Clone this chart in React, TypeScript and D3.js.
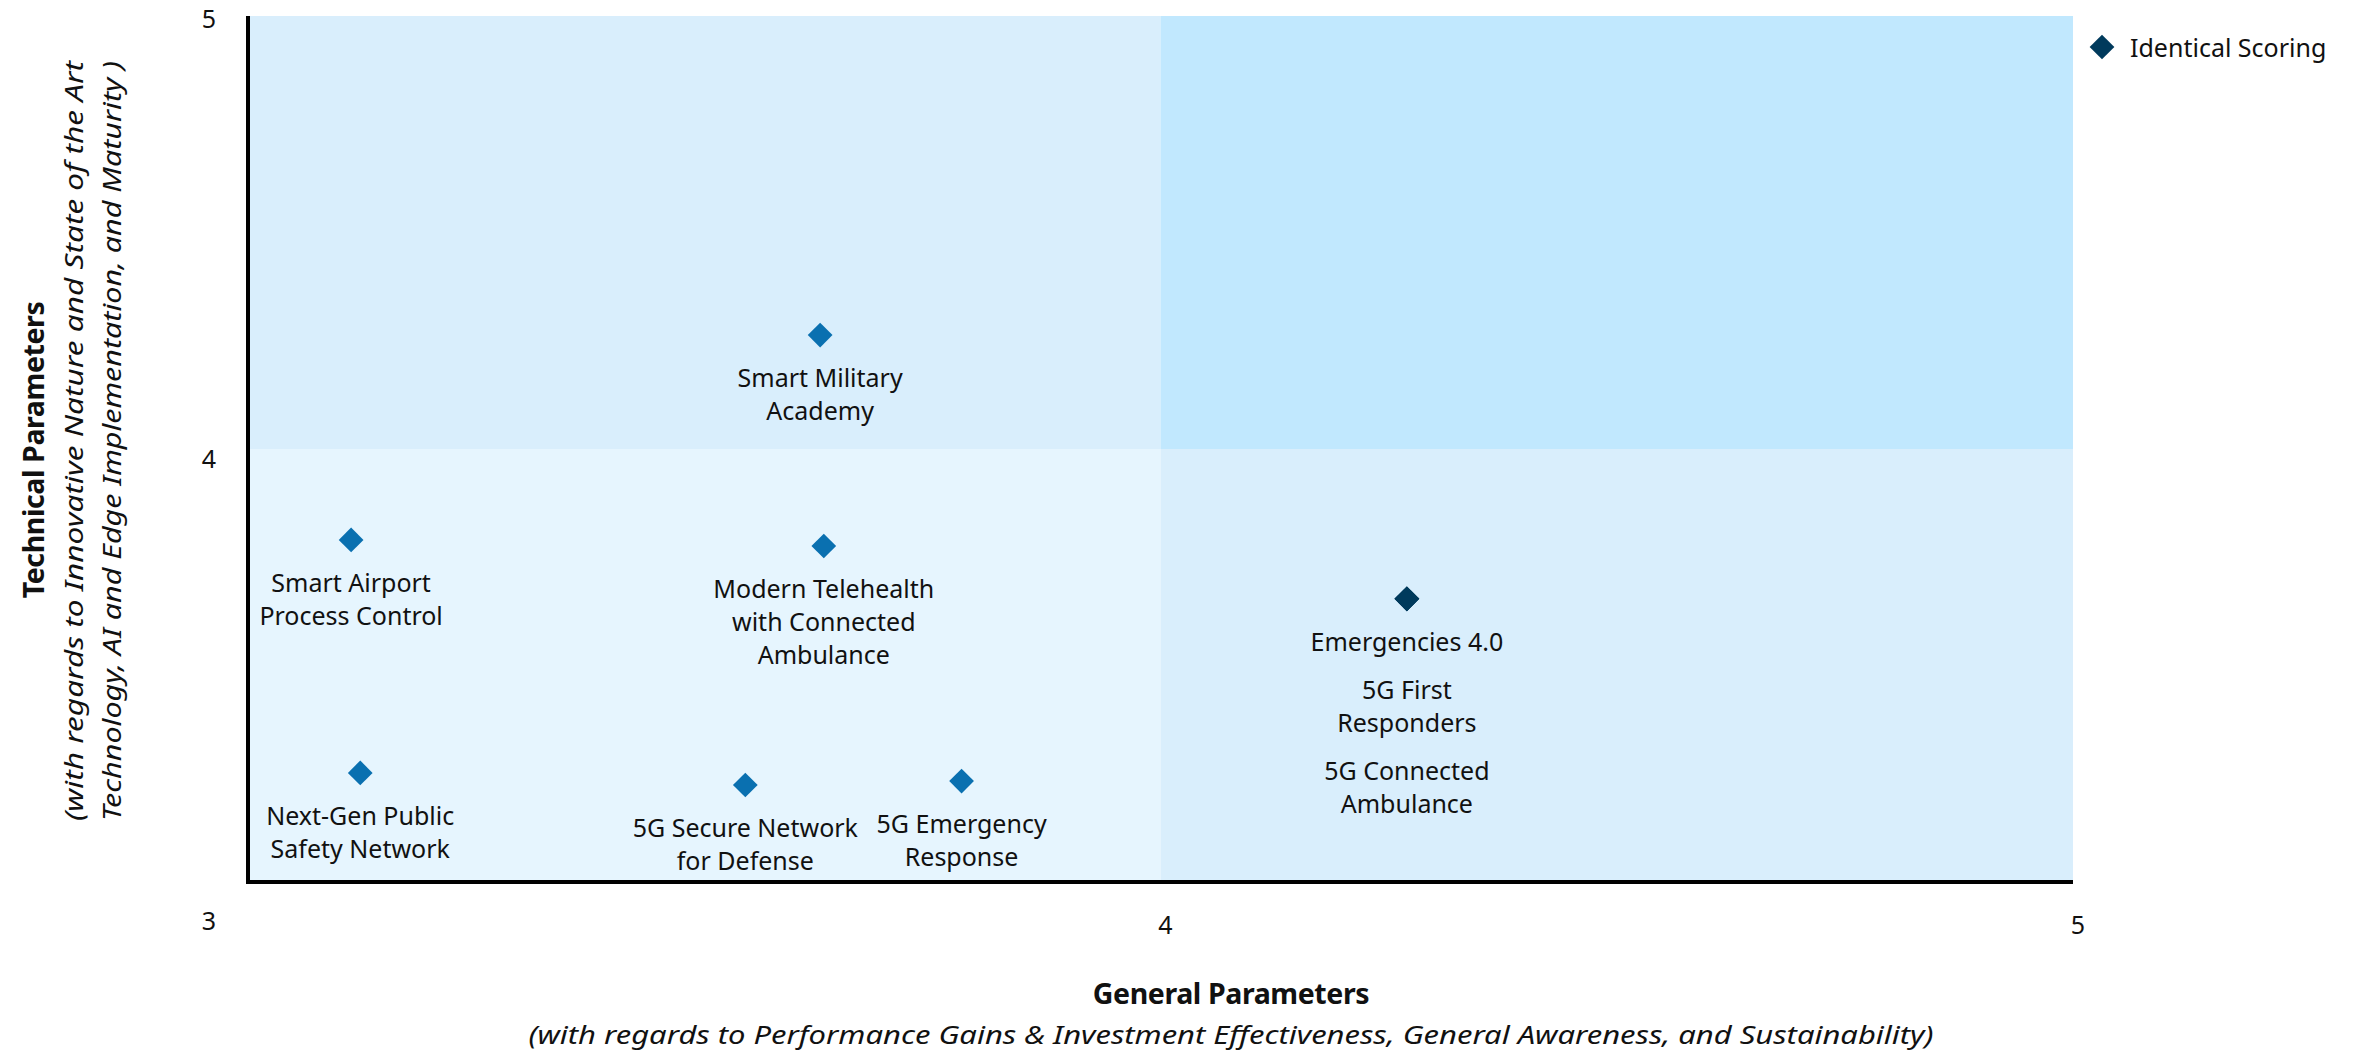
import * as d3 from "d3";
import { useEffect, useRef } from "react";

// Chart values
const projectNames = [
  "Smart Military Academy",
  "Smart Airport Process Control",
  "Modern Telehealth with Connected Ambulance",
  "Emergencies 4.0",
  "5G First Responders",
  "5G Connected Ambulance",
  "Next-Gen Public Safety Network",
  "5G Secure Network for Defense",
  "5G Emergency Response",
];
const labelLines = [
  ["Smart Military", "Academy"],
  ["Smart Airport", "Process Control"],
  ["Modern Telehealth", "with Connected", "Ambulance"],
  ["Emergencies 4.0"],
  ["5G First", "Responders"],
  ["5G Connected", "Ambulance"],
  ["Next-Gen Public", "Safety Network"],
  ["5G Secure Network", "for Defense"],
  ["5G Emergency", "Response"],
];
const generalScores = [3.627, 3.113, 3.631, 4.27, 4.27, 4.27, 3.123, 3.545, 3.782];
const technicalScores = [4.263, 3.79, 3.776, 3.654, 3.654, 3.654, 3.252, 3.224, 3.233];
const identicalScoring = [false, false, false, true, true, true, false, false, false];

const xTicks = [4, 5];
const yTicks = [5, 4];
const cornerTick = "3";

const xTitle = "General Parameters";
const xSubtitle =
  "(with regards to Performance Gains & Investment Effectiveness, General Awareness, and Sustainability)";
const yTitle = "Technical Parameters";
const ySubtitle = [
  "(with regards to Innovative Nature and State of the Art",
  "Technology, AI and Edge Implementation, and  Maturity )",
];
const legendLabel = "Identical Scoring";

const quadrantColors = {
  lowLow: "#e6f5fe",
  lowHigh: "#d9eefc",
  highLow: "#d9eefc",
  highHigh: "#c1e8fe",
};
const markerColor = "#0a70b0";
const identicalColor = "#003a5c";

const width = 2354,
  height = 1052;
const font = "'Noto Sans', 'Open Sans', sans-serif";

export default function App() {
  const svgRef = useRef(null);

  useEffect(() => {
    document.body.style.margin = "0";
    const svg = d3.select(svgRef.current);
    svg.selectAll("*").remove();

    const x = d3.scaleLinear().domain([3, 5]).range([248, 2073]);
    const y = d3.scaleLinear().domain([3, 5]).range([882, 16]);

    // quadrants
    const quads = [
      { x0: 3, x1: 4, y0: 3, y1: 4, c: quadrantColors.lowLow },
      { x0: 3, x1: 4, y0: 4, y1: 5, c: quadrantColors.lowHigh },
      { x0: 4, x1: 5, y0: 3, y1: 4, c: quadrantColors.highLow },
      { x0: 4, x1: 5, y0: 4, y1: 5, c: quadrantColors.highHigh },
    ];
    svg.append("g")
      .selectAll("rect")
      .data(quads)
      .enter().append("rect")
      .attr("x", (d) => x(d.x0))
      .attr("y", (d) => y(d.y1))
      .attr("width", (d) => x(d.x1) - x(d.x0))
      .attr("height", (d) => y(d.y0) - y(d.y1))
      .attr("fill", (d) => d.c);

    // axes lines
    svg.append("line")
      .attr("x1", x(3)).attr("x2", x(3))
      .attr("y1", y(5)).attr("y2", y(3) + 2)
      .attr("stroke", "#000").attr("stroke-width", 4);
    svg.append("line")
      .attr("x1", x(3) - 2).attr("x2", x(5))
      .attr("y1", y(3)).attr("y2", y(3))
      .attr("stroke", "#000").attr("stroke-width", 4);

    // tick labels
    const tickStyle = (sel) => sel
      .attr("font-family", font)
      .attr("font-size", 25)
      .attr("fill", "#111")
      .attr("text-anchor", "middle")
      .attr("dominant-baseline", "central");

    svg.append("g").selectAll("text")
      .data(xTicks)
      .enter().append("text")
      .attr("x", (d) => x(d) + 5)
      .attr("y", y(3) + 42)
      .text((d) => d)
      .call(tickStyle);

    svg.append("g").selectAll("text")
      .data(yTicks)
      .enter().append("text")
      .attr("x", x(3) - 39)
      .attr("y", (d) => y(d) + (d === 5 ? 2 : 9))
      .text((d) => d)
      .call(tickStyle);

    svg.append("text")
      .attr("x", x(3) - 39)
      .attr("y", y(3) + 38)
      .text(cornerTick)
      .call(tickStyle);

    // points
    const points = projectNames.map((name, i) => ({
      name,
      lines: labelLines[i],
      gx: generalScores[i],
      ty: technicalScores[i],
      identical: identicalScoring[i],
    }));

    const diamond = d3.symbol().type(d3.symbolDiamond2).size(390);

    svg.append("g").selectAll("path")
      .data(points)
      .enter().append("path")
      .attr("d", diamond)
      .attr("transform", (d) => `translate(${x(d.gx)},${y(d.ty)})`)
      .attr("fill", (d) => (d.identical ? identicalColor : markerColor));

    // labels, stacked when several points share a position
    const lineH = 33,
      blockGap = 15;
    const stackOffset = {};
    const labelG = svg.append("g");
    points.forEach((p) => {
      const key = `${p.gx},${p.ty}`;
      const start = stackOffset[key] ?? 42;
      const cx = x(p.gx),
        cy = y(p.ty);
      p.lines.forEach((line, j) => {
        labelG.append("text")
          .attr("x", cx)
          .attr("y", cy + start + j * lineH)
          .attr("font-family", font)
          .attr("font-size", 25)
          .attr("fill", "#111")
          .attr("text-anchor", "middle")
          .attr("dominant-baseline", "central")
          .text(line);
      });
      stackOffset[key] = start + p.lines.length * lineH + blockGap;
    });

    // axis titles
    svg.append("text")
      .attr("x", 1231).attr("y", 993)
      .attr("font-family", font)
      .attr("font-size", 28.5)
      .attr("font-weight", "bold")
      .attr("fill", "#111")
      .attr("text-anchor", "middle")
      .attr("dominant-baseline", "central")
      .attr("letter-spacing", -0.4)
      .text(xTitle);
    svg.append("text")
      .attr("x", 1231).attr("y", 1034)
      .attr("font-family", font)
      .attr("font-size", 26)
      .attr("font-style", "italic")
      .attr("fill", "#111")
      .attr("text-anchor", "middle")
      .attr("dominant-baseline", "central")
      .attr("textLength", 1405)
      .attr("lengthAdjust", "spacingAndGlyphs")
      .text(xSubtitle);

    const yG = svg.append("g").attr("transform", "translate(0,450) rotate(-90)");
    yG.append("text")
      .attr("x", 0).attr("y", 33)
      .attr("font-family", font)
      .attr("font-size", 28.5)
      .attr("font-weight", "bold")
      .attr("fill", "#111")
      .attr("text-anchor", "middle")
      .attr("dominant-baseline", "central")
      .attr("letter-spacing", -0.4)
      .text(yTitle);
    ySubtitle.forEach((line, i) => {
      yG.append("text")
        .attr("x", 9).attr("y", 73 + i * 38)
        .attr("font-family", font)
        .attr("font-size", 26)
        .attr("font-style", "italic")
        .attr("fill", "#111")
        .attr("text-anchor", "middle")
        .attr("dominant-baseline", "central")
        .attr("textLength", 760)
        .attr("lengthAdjust", "spacingAndGlyphs")
        .text(line);
    });

    // legend
    const legend = svg.append("g").attr("transform", "translate(2102,47)");
    legend.append("path")
      .attr("d", diamond)
      .attr("fill", identicalColor);
    legend.append("text")
      .attr("x", 28).attr("y", 0)
      .attr("font-family", font)
      .attr("font-size", 25)
      .attr("fill", "#111")
      .attr("dominant-baseline", "central")
      .text(legendLabel);
  }, []);

  return <svg ref={svgRef} width={width} height={height} style={{ display: "block", background: "#fff" }} />;
}
